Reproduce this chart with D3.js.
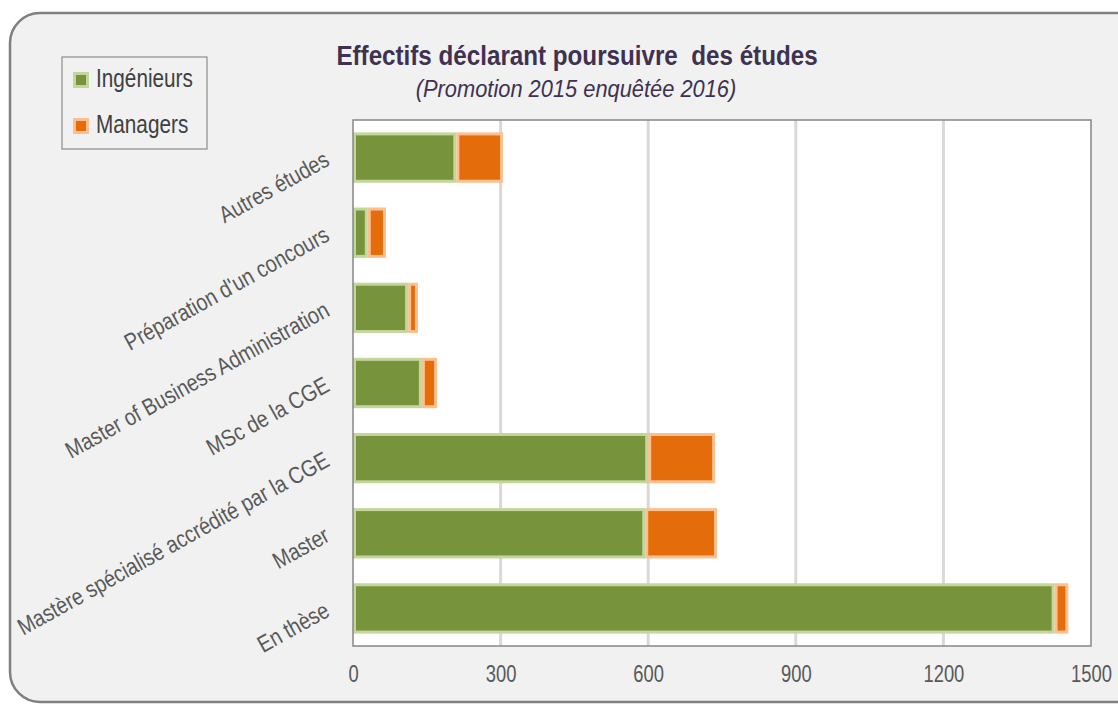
<!DOCTYPE html>
<html>
<head>
<meta charset="utf-8">
<script src="https://cdn.jsdelivr.net/npm/d3@7"></script>
<style>
  body { margin: 0; background: #fff; }
  text { font-family: "Liberation Sans", Arial, sans-serif; }
</style>
</head>
<body>
<div id="chart"></div>
<script>
const categories = [
  "Autres études",
  "Préparation d'un concours",
  "Master of Business Administration",
  "MSc de la CGE",
  "Mastère spécialisé accrédité par la CGE",
  "Master",
  "En thèse"
];
const ingenieurs = [210, 30, 112, 140, 600, 594, 1426];
const managers = [95, 37, 20, 31, 136, 146, 28];
const seriesNames = ["Ingénieurs", "Managers"];
const xTicks = [0, 300, 600, 900, 1200, 1500];

const width = 1118;
const height = 704;
const margin = { top: 120, right: 27, bottom: 58, left: 353 };
const innerWidth = width - margin.left - margin.right;
const innerHeight = height - margin.top - margin.bottom;

// no narrow font installed, so squeeze text horizontally
const narrow = 0.84;

const colors = {
  Ingénieurs: { fill: "#77933c", stroke: "#c3d69b" },
  Managers: { fill: "#e46c0a", stroke: "#fac090" }
};

const rows = categories.map((c, i) => ({ cat: c, Ingénieurs: ingenieurs[i], Managers: managers[i] }));
const stacked = d3.stack().keys(seriesNames)(rows);

const svg = d3.select("#chart")
  .append("svg")
    .attr("width", width)
    .attr("height", height);

// outer rounded frame
svg.append("rect")
  .attr("x", 10).attr("y", 13)
  .attr("width", width + 30).attr("height", height - 15)
  .attr("rx", 30)
  .attr("fill", "#f1f1f1")
  .attr("stroke", "#7f7f7f")
  .attr("stroke-width", 2.5);

const xScale = d3.scaleLinear()
  .domain([0, 1500])
  .range([0, innerWidth]);

const yScale = d3.scaleBand()
  .domain(categories)
  .range([0, innerHeight])
  .paddingInner(0.33)
  .paddingOuter(0.165);

const inner = svg.append("g")
  .attr("transform", `translate(${margin.left}, ${margin.top})`);

inner.append("rect")
  .attr("width", innerWidth)
  .attr("height", innerHeight)
  .attr("fill", "#fff");

// gridlines
inner.selectAll(".grid")
  .data(xTicks.slice(1, -1))
  .join("line")
    .attr("x1", (d) => xScale(d))
    .attr("x2", (d) => xScale(d))
    .attr("y1", 0)
    .attr("y2", innerHeight)
    .attr("stroke", "#d9d9d9")
    .attr("stroke-width", 3);

// bars
inner.selectAll(".series")
  .data(stacked)
  .join("g")
    .attr("fill", (d) => colors[d.key].fill)
    .attr("stroke", (d) => colors[d.key].stroke)
  .selectAll("rect")
  .data((d) => d)
  .join("rect")
    .attr("x", (d) => xScale(d[0]) + 1.5)
    .attr("y", (d) => yScale(d.data.cat) + 1.5)
    .attr("width", (d) => Math.max(0, xScale(d[1]) - xScale(d[0]) - 3))
    .attr("height", yScale.bandwidth() - 3)
    .attr("stroke-width", 3);

// plot border
inner.append("rect")
  .attr("width", innerWidth)
  .attr("height", innerHeight)
  .attr("fill", "none")
  .attr("stroke", "#868686")
  .attr("stroke-width", 1.5);

// x axis
const xAxis = inner.append("g")
  .attr("transform", `translate(0, ${innerHeight})`)
  .call(d3.axisBottom(xScale).tickValues(xTicks).tickFormat(d3.format("d")).tickSize(0).tickPadding(20));
xAxis.select(".domain").remove();
xAxis.selectAll("text")
  .attr("font-size", 23)
  .attr("fill", "#595959")
  .attr("transform", "scale(0.8, 1)")
  .style("font-family", '"Liberation Sans", Arial, sans-serif');

// y labels, rotated
inner.selectAll(".ylab")
  .data(categories)
  .join("text")
    .attr("text-anchor", "end")
    .attr("font-size", 23.5)
    .attr("fill", "#595959")
    .attr("transform", (d) => `translate(-22, ${yScale(d) + yScale.bandwidth() / 2 + 7}) rotate(-29) scale(${narrow}, 1)`)
    .text((d) => d);

// title
svg.append("text")
  .attr("transform", "translate(577, 65) scale(0.88, 1)")
  .attr("text-anchor", "middle")
  .attr("font-size", 27.5)
  .attr("font-weight", "bold")
  .attr("fill", "#403151")
  .attr("xml:space", "preserve")
  .text("Effectifs déclarant poursuivre  des études");

svg.append("text")
  .attr("transform", "translate(576, 97) scale(0.95, 1)")
  .attr("text-anchor", "middle")
  .attr("font-size", 23)
  .attr("font-style", "italic")
  .attr("fill", "#403151")
  .text("(Promotion 2015 enquêtée 2016)");

// legend
const legend = svg.append("g").attr("transform", "translate(62, 57)");
legend.append("rect")
  .attr("width", 145).attr("height", 92)
  .attr("fill", "none")
  .attr("stroke", "#8c8c8c")
  .attr("stroke-width", 1.2);
const items = legend.selectAll(".item")
  .data(seriesNames)
  .join("g")
    .attr("transform", (d, i) => `translate(11, ${23 + i * 46})`);
items.append("rect")
  .attr("x", 1.5).attr("y", -6.5)
  .attr("width", 13).attr("height", 13)
  .attr("fill", (d) => colors[d].fill)
  .attr("stroke", (d) => colors[d].stroke)
  .attr("stroke-width", 3);
items.append("text")
  .attr("transform", `translate(23, 7) scale(${narrow - 0.01}, 1)`)
  .attr("font-size", 25)
  .attr("fill", "#404040")
  .text((d) => d);
</script>
</body>
</html>
